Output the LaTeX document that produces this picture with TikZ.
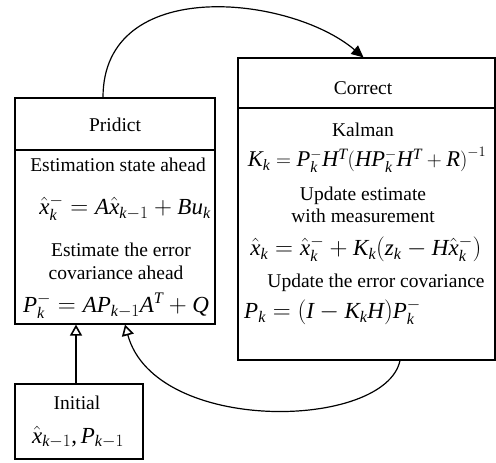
\documentclass[tikz,border=0pt]{standalone}
\usepackage{fontspec}
\setmainfont{Liberation Serif}
\DeclareSymbolFont{letters}{TU}{\rmdefault}{m}{it}
\usepackage{tikz}
\usetikzlibrary{arrows.meta,positioning}

\tikzset{
  box/.style={draw,line width=1.2pt,rectangle,inner sep=0pt},
  lbl/.style={font=\fontsize{19.5}{22}\selectfont,inner sep=0pt},
  eqn/.style={font=\fontsize{23}{26}\selectfont,inner sep=0pt},
  flow/.style={line width=1.2pt,-{Triangle[open,length=11pt,width=12pt,line width=1.6pt]}},
}

\begin{document}
\begin{tikzpicture}[x=1pt,y=-1pt]
    \useasboundingbox (0,0) rectangle (496,463);
    % predict box (header + body)
    \node[box,minimum width=200pt,minimum height=52pt] (predhead) at (115,124) {};
    \node[box,minimum width=200pt,minimum height=174pt] (predbody) at (115,237) {};
    \node[lbl] (predtitle) at (115,125) {Pridict};
    \node[lbl] (predtxta) at (118,165) {Estimation state ahead};
    \node[eqn] (predeqa) at (125,208) {$\hat{x}_k^{-} = A\hat{x}_{k-1} + Bu_k$};
    \node[lbl] (predtxtb) at (121,250) {Estimate the error};
    \node[lbl] (predtxtc) at (116,273) {covariance ahead};
    \node[eqn] (predeqb) at (116,306) {$P_k^{-} = AP_{k-1}A^T + Q$};
    % correct box (header + body)
    \node[box,minimum width=257pt,minimum height=50pt] (corrhead) at (366.5,83) {};
    \node[box,minimum width=257pt,minimum height=252pt] (corrbody) at (366.5,234) {};
    \node[lbl] (corrtitle) at (363,88) {Correct};
    \node[lbl] (corrtxta) at (363,130) {Kalman};
    \node[eqn,font=\fontsize{22.5}{26}\selectfont] (correqa) at (367,160) {$K_k = P_k^{-}H^T\bigl(HP_k^{-}H^T + R\bigr)^{-1}$};
    \node[lbl] (corrtxtb) at (363,196) {Update estimate};
    \node[lbl] (corrtxtc) at (363,216) {with measurement};
    \node[eqn] (correqb) at (366,249) {$\hat{x}_k = \hat{x}_k^{-} + K_k\bigl(z_k - H\hat{x}_k^{-}\bigr)$};
    \node[lbl] (corrtxtd) at (376,283) {Update the error covariance};
    \node[eqn,anchor=west] (correqc) at (244,312) {$P_k = \bigl(I - K_kH\bigr)P_k^{-}$};
    % initial box
    \node[box,minimum width=128pt,minimum height=75pt] (init) at (79,421.5) {};
    \node[lbl] (inittxt) at (77,403) {Initial};
    \node[eqn] (initeq) at (78,437) {$\hat{x}_{k-1}$,\,$P_{k-1}$};
    % connectors
    \draw[line width=1.2pt,-{Triangle[length=12pt,width=11pt]}]
      ([xshift=-12pt]predhead.north) .. controls (103,-25) and (290,-5) .. ([xshift=-3pt]corrhead.north);
    \draw[flow] ([xshift=33.5pt]corrbody.south) .. controls (385,430) and (155,435) .. ([xshift=10pt]predbody.south);
    \draw[flow] ([xshift=-3pt]init.north) -- ([xshift=-3pt]init.north |- predbody.south);
  \end{tikzpicture}
\end{document}
